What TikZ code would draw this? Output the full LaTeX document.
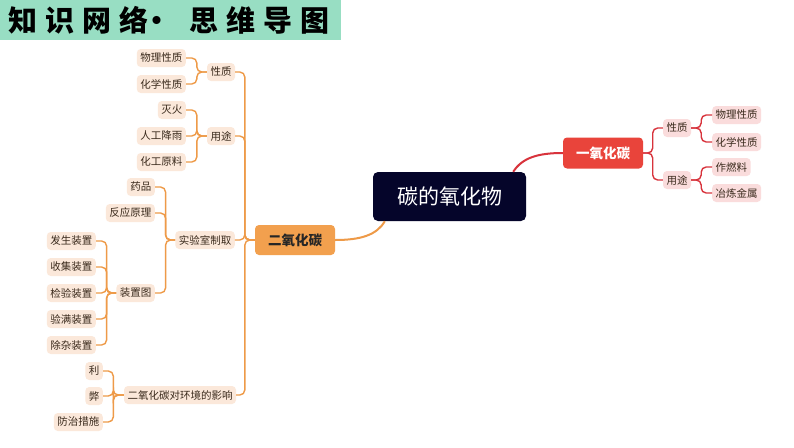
\documentclass[tikz,border=0pt]{standalone}
\usepackage{fontspec}
\setmainfont{Noto Sans CJK SC}
\usetikzlibrary{calc}
\definecolor{mint}{HTML}{98DEC3}
\definecolor{peach}{HTML}{FBE8DA}
\definecolor{pinkbg}{HTML}{FADCDC}
\definecolor{oline}{HTML}{EE9A48}
\definecolor{rline}{HTML}{D8333C}
\definecolor{orangebox}{HTML}{F2A04E}
\definecolor{redbox}{HTML}{E9443B}
\definecolor{navy}{HTML}{05052A}
\definecolor{txt}{HTML}{3A2A1C}
\begin{document}
\begin{tikzpicture}[x=1pt,y=-1pt,
 leaf/.style={fill=peach, rounded corners=4pt, inner xsep=3.5pt, inner ysep=0pt, minimum height=18pt, font=\fontsize{10.5}{12}\selectfont, text=txt},
 rleaf/.style={leaf, fill=pinkbg},
 oc/.style={draw=oline, line width=1.4pt, rounded corners=5pt},
 rc/.style={draw=rline, line width=1.4pt, rounded corners=5pt},
]
\useasboundingbox (0,0) rectangle (794,447);
\fill[white] (0,0) rectangle (794,447);
% title
\fill[mint] (0,0) rectangle (341,40);
\node[inner sep=0, anchor=west, font=\fontsize{29}{30}\selectfont\bfseries] (title) at (8,20)
 {知\hspace{8pt}识\hspace{8pt}网\hspace{8pt}络\hspace{-6pt}·\hspace{18pt}思\hspace{8pt}维\hspace{8pt}导\hspace{8pt}图};
% root
\node[fill=navy, rounded corners=5pt, minimum width=153pt, minimum height=49pt, text=white, font=\fontsize{21}{24}\selectfont] (root) at (449.5,196.5) {碳的氧化物};
% CO2 branch
\node[fill=orangebox, rounded corners=4pt, minimum width=80pt, minimum height=30pt, font=\fontsize{13.5}{15}\selectfont\bfseries, text=black!85] (co2) at (295,240) {二氧化碳};
\node[leaf] (xz1) at (221,72) {性质};
\node[leaf] (yt1) at (221,136) {用途};
\node[leaf] (sys) at (205,240) {实验室制取};
\node[leaf] (yx) at (180,395) {二氧化碳对环境的影响};
\node[leaf, anchor=east] (wl1) at (186,58) {物理性质};
\node[leaf, anchor=east] (hx1) at (186,84) {化学性质};
\node[leaf, anchor=east] (mh) at (186,110) {灭火};
\node[leaf, anchor=east] (rg) at (186,136) {人工降雨};
\node[leaf, anchor=east] (hg) at (186,162) {化工原料};
\node[leaf, anchor=east] (yp) at (155,187) {药品};
\node[leaf, anchor=east] (fy) at (155,213) {反应原理};
\node[leaf, anchor=east] (zzt) at (155,293) {装置图};
\node[leaf, anchor=east] (fs) at (96,241) {发生装置};
\node[leaf, anchor=east] (sj) at (96,267) {收集装置};
\node[leaf, anchor=east] (jy) at (96,293) {检验装置};
\node[leaf, anchor=east] (ym) at (96,319) {验满装置};
\node[leaf, anchor=east] (cz) at (96,345) {除杂装置};
\node[leaf, anchor=east] (li) at (103,371) {利};
\node[leaf, anchor=east] (bi) at (103,396) {弊};
\node[leaf, anchor=east] (fz) at (103,422) {防治措施};
% CO branch
\node[fill=redbox, rounded corners=4pt, minimum width=80pt, minimum height=31pt, text=white, font=\fontsize{13.5}{15}\selectfont\bfseries] (co) at (603,153) {一氧化碳};
\node[rleaf] (rxz) at (677,128) {性质};
\node[rleaf] (ryt) at (677,180) {用途};
\node[rleaf, anchor=west] (rwl) at (712,115) {物理性质};
\node[rleaf, anchor=west] (rhx) at (712,142) {化学性质};
\node[rleaf, anchor=west] (rrl) at (712,167) {作燃料};
\node[rleaf, anchor=west] (ryl) at (712,193) {冶炼金属};
% root curves
\draw[draw=rline, line width=2pt] ($(root.north east)+(-13,0)$) .. controls +(9,-14) and +(-25,0) .. (co.west);
\draw[draw=oline, line width=2pt] ($(root.south west)+(12,0)$) .. controls +(-8,14) and +(25,0) .. (co2.east);
% left connectors
\foreach \p/\c/\g in {co2/xz1/10, co2/yt1/10, co2/sys/10, co2/yx/10,
  xz1/wl1/10, xz1/hx1/10, yt1/mh/10, yt1/rg/10, yt1/hg/10,
  sys/yp/9.5, sys/fy/9.5, sys/zzt/9.5,
  zzt/fs/9.5, zzt/sj/9.5, zzt/jy/9.5, zzt/ym/9.5, zzt/cz/9.5,
  yx/li/10.5, yx/bi/10.5, yx/fz/10.5}
  \draw[oc] (\p.west) -- ++(-\g,0) |- (\c.east);
% right connectors
\foreach \p/\c/\g in {co/rxz/9.5, co/ryt/9.5, rxz/rwl/10, rxz/rhx/10, ryt/rrl/10, ryt/ryl/10}
  \draw[rc] (\p.east) -- ++(\g,0) |- (\c.west);
\end{tikzpicture}
\end{document}
